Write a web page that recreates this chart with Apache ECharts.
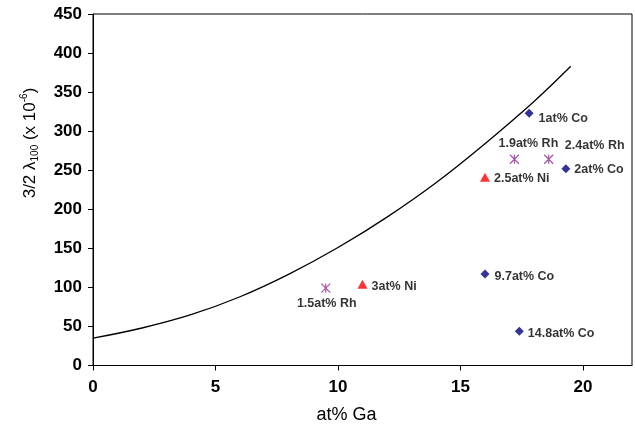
<!DOCTYPE html>
<html>
<head>
<meta charset="utf-8">
<script src="https://cdn.jsdelivr.net/npm/echarts@6/dist/echarts.min.js"></script>
<style>
  html, body { margin: 0; padding: 0; background: #fff; }
  #chart { width: 635px; height: 425px; }
</style>
</head>
<body>
<div id="chart"></div>
<script>
// Magnetostriction 3/2 λ100 against Ga content, with ternary additions

// Fitted trend for binary Fe-Ga
const curveX = [0, 2, 4, 6, 8, 10, 12, 14, 16, 18, 19.5];
const curveY = [35, 48, 65, 88, 117, 151, 190, 234, 284, 338, 383];

// Co additions
const coX = [17.8, 19.3, 16.0, 17.4];
const coY = [323, 252, 117, 44];
const coLabels = ['1at% Co', '2at% Co', '9.7at% Co', '14.8at% Co'];

// Ni additions
const niX = [16.0, 11.0];
const niY = [241, 104];
const niLabels = ['2.5at% Ni', '3at% Ni'];

// Rh additions
const rhX = [17.2, 18.6, 9.5];
const rhY = [264, 264, 99];
const rhLabels = ['1.9at% Rh', '2.4at% Rh', '1.5at% Rh'];

// Axis ticks
const xTicks = [0, 5, 10, 15, 20];
const yTicks = [0, 50, 100, 150, 200, 250, 300, 350, 400, 450];

// Where each point's label sits relative to its marker
const labelPlacement = {
  '1at% Co':   { position: 'right', distance: 5, offset: [0, 5] },
  '2at% Co':   { position: 'right', distance: 4, offset: [0, 1] },
  '9.7at% Co': { position: 'right', distance: 5, offset: [0, 2] },
  '14.8at% Co':{ position: 'right', distance: 4, offset: [0, 2] },
  '2.5at% Ni': { position: 'right', distance: 4, offset: [0, 1] },
  '3at% Ni':   { position: 'right', distance: 4, offset: [0, 2] },
  '1.9at% Rh': { position: 'inside', offset: [14, -16] },
  '2.4at% Rh': { position: 'inside', offset: [46, -14] },
  '1.5at% Rh': { position: 'inside', offset: [1, 15] }
};

const FONT = '"Liberation Sans", Arial, Helvetica, sans-serif';

function points(xs, ys, names) {
  return xs.map((x, i) => ({
    value: [x, ys[i]],
    name: names[i],
    label: labelPlacement[names[i]]
  }));
}

const pointLabel = {
  show: true,
  formatter: '{b}',
  color: '#000',
  fontFamily: FONT,
  fontWeight: 'bold',
  fontSize: 12.5
};

const chart = echarts.init(document.getElementById('chart'), null, { renderer: 'canvas' });

chart.setOption({
  animation: false,
  backgroundColor: '#fff',
  grid: {
    left: 93, right: 3, top: 14, bottom: 59.5,
    outerBoundsMode: 'none',
    containLabel: false,
    show: true, borderColor: '#000', borderWidth: 1,
    backgroundColor: 'transparent'
  },
  xAxis: {
    type: 'value',
    min: 0, max: 22, interval: 5,
    name: 'at% Ga',
    nameLocation: 'middle',
    nameGap: 41,
    nameTextStyle: {
      fontFamily: FONT, fontSize: 18, color: '#000',
      padding: [0, 32, 0, 0]
    },
    axisLine: { show: true, lineStyle: { color: '#000', width: 1 } },
    axisTick: { show: true, inside: false, length: 5, customValues: xTicks, lineStyle: { color: '#000' } },
    axisLabel: {
      customValues: xTicks,
      margin: 13,
      fontFamily: FONT, fontWeight: 'bold', fontSize: 17, color: '#000'
    },
    splitLine: { show: false }
  },
  yAxis: {
    type: 'value',
    min: 0, max: 450, interval: 50,
    axisLine: { show: true, lineStyle: { color: '#000', width: 1 } },
    axisTick: { show: true, inside: false, length: 5, customValues: yTicks, lineStyle: { color: '#000' } },
    axisLabel: {
      customValues: yTicks,
      margin: 11,
      fontFamily: FONT, fontWeight: 'bold', fontSize: 17, color: '#000'
    },
    splitLine: { show: false }
  },
  graphic: [{
    type: 'text',
    x: 30,
    y: 143,
    rotation: Math.PI / 2,
    style: {
      text: '{m|3/2 λ}{s|100}{m| (x 10}{p|-6}{m|)}',
      align: 'center',
      verticalAlign: 'middle',
      fill: '#000',
      rich: {
        m: { fontFamily: FONT, fontSize: 17, fill: '#000', verticalAlign: 'middle', lineHeight: 21 },
        s: { fontFamily: FONT, fontSize: 10, fill: '#000', verticalAlign: 'bottom', lineHeight: 21 },
        p: { fontFamily: FONT, fontSize: 10, fill: '#000', verticalAlign: 'top', lineHeight: 21 }
      }
    }
  }],
  series: [
    {
      name: 'Fe-Ga trend',
      type: 'line',
      data: curveX.map((x, i) => [x, curveY[i]]),
      smooth: 0.4,
      showSymbol: false,
      lineStyle: { color: '#000', width: 1.3 },
      silent: true,
      z: 1
    },
    {
      name: 'Co',
      type: 'scatter',
      symbol: 'diamond',
      symbolSize: 9,
      itemStyle: { color: '#000080' },
      label: pointLabel,
      data: points(coX, coY, coLabels),
      z: 3
    },
    {
      name: 'Ni',
      type: 'scatter',
      symbol: 'triangle',
      symbolSize: [10, 9],
      itemStyle: { color: '#ff0000' },
      label: pointLabel,
      data: points(niX, niY, niLabels),
      z: 3
    },
    {
      name: 'Rh',
      type: 'scatter',
      symbol: 'path://M0,0L10,10M10,0L0,10M5,0L5,10',
      symbolSize: 9,
      itemStyle: { color: 'transparent', borderColor: '#8e2a90', borderWidth: 1.2 },
      label: pointLabel,
      data: points(rhX, rhY, rhLabels),
      z: 3
    }
  ]
});
</script>
</body>
</html>
